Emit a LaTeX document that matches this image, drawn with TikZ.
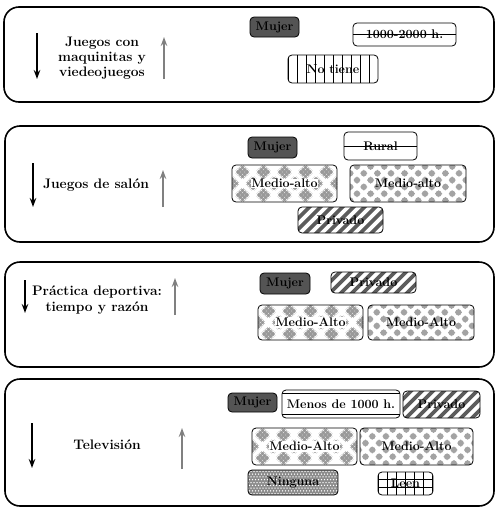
\documentclass[tikz,border=0pt]{standalone}
\usetikzlibrary{arrows.meta,calc}
\definecolor{MujerClr}{rgb}{0.33,0.33,0.33}
\definecolor{StripeClr}{rgb}{0.36,0.36,0.36}
\definecolor{CheckClr}{rgb}{0.64,0.64,0.64}
\definecolor{DiamondClr}{rgb}{0.6,0.6,0.6}
\definecolor{DotClr}{rgb}{0.55,0.55,0.55}
\definecolor{UpClr}{rgb}{0.5,0.5,0.5}
\newcommand{\knock}[1]{{\setlength{\fboxsep}{0.6pt}\colorbox{white}{#1}}}

\tikzset{
  panel/.style={line width=1.6pt,rounded corners=15pt},
  title/.style={align=center,font=\bfseries\fontsize{13.8}{15.3}\selectfont},
  down/.style={line width=1.6pt,-{Stealth[length=9pt,width=6.5pt]}},
  up/.style={UpClr,line width=1.3pt,-{Stealth[length=9pt,width=6.5pt]}},
  tag/.style={draw,line width=0.8pt,rounded corners=4pt,inner sep=0pt,
    font=\bfseries\fontsize{12.5}{14}\selectfont},
  mujer/.style={tag,fill=MujerClr},
  midline/.style={path picture={\draw[line width=0.6pt] (path picture bounding box.west) -- (path picture bounding box.east);}},
  dblline/.style={path picture={
    \draw[line width=0.6pt] ([yshift=-3.5pt]path picture bounding box.north west) -- ([yshift=-3.5pt]path picture bounding box.north east);
    \draw[line width=0.6pt] ([yshift=3.5pt]path picture bounding box.south west) -- ([yshift=3.5pt]path picture bounding box.south east);}},
  vlines/.style={path picture={\foreach \i in {-6,...,6}
    \draw[line width=0.6pt] ([xshift=\i*9pt]path picture bounding box.north) -- ([xshift=\i*9pt]path picture bounding box.south);}},
  grid/.style={path picture={
    \foreach \i in {-4,...,4}
      \draw[line width=0.7pt] ([xshift=\i*9pt]path picture bounding box.north) -- ([xshift=\i*9pt]path picture bounding box.south);
    \foreach \j in {-1,1}
      \draw[line width=0.7pt] ([yshift=\j*3.9pt]path picture bounding box.west) -- ([yshift=\j*3.9pt]path picture bounding box.east);}},
  stripes/.style={path picture={\foreach \i in {-10,...,10}
    \draw[StripeClr,line width=3.6pt] ([xshift=\i*11pt]path picture bounding box.center) ++(-25pt,-25pt) -- ++(50pt,50pt);}},
  checker/.style={path picture={\foreach \i in {-10,...,10}{\foreach \j in {-4,...,3}{
    \pgfmathtruncatemacro\k{mod(\i+\j+20,2)}
    \ifnum\k=0 \fill[CheckClr] ([xshift=\i*6.8pt,yshift=\j*6.8pt]path picture bounding box.center) rectangle ++(6.8pt,6.8pt);\fi}}}},
  dots/.style={path picture={\fill[DotClr] (path picture bounding box.south west) rectangle (path picture bounding box.north east);
    \foreach \i in {-16,...,16}{\foreach \j in {-4,...,4}{
      \pgfmathsetmacro\ox{\i*3+1.5*mod(\j+8,2)}
      \fill[white] ([xshift=\ox pt,yshift=\j*2.8pt]path picture bounding box.center) circle (0.75pt);}}}},
  diamonds/.style={path picture={\foreach \i in {-3,...,3}{\foreach \j in {-1,0,1}{
    \pgfmathsetmacro\dx{\i*21+(\j==0)*10.5}
    \foreach \a in {-1,0,1}{\foreach \b in {-1,0,1}
      \fill[DiamondClr] ([xshift=\dx*1pt+(\a-\b)*2.2pt,yshift=\j*11.5pt+(\a+\b)*2.2pt]path picture bounding box.center)
        ++(0,1.3pt) -- ++(1.3pt,-1.3pt) -- ++(-1.3pt,-1.3pt) -- ++(-1.3pt,1.3pt) -- cycle;}}}}},
}

\begin{document}
\begin{tikzpicture}[x=1pt,y=-1pt]
\useasboundingbox (0,0) rectangle (496,509);

\draw[panel] (4,7) rectangle (494,102);
\draw[panel] (5,126) rectangle (494,242);
\draw[panel] (5,262) rectangle (494,367);
\draw[panel] (5,379) rectangle (494,506);

\coordinate (d1a) at (37,33);  \coordinate (d1b) at (37,79);
\coordinate (u1a) at (164,79); \coordinate (u1b) at (164,37);
\coordinate (d2a) at (33,163); \coordinate (d2b) at (33,207);
\coordinate (u2a) at (163,207);\coordinate (u2b) at (163,170);
\coordinate (d3a) at (25,280); \coordinate (d3b) at (25,313);
\coordinate (u3a) at (175,315);\coordinate (u3b) at (175,278);
\coordinate (d4a) at (32,423); \coordinate (d4b) at (32,468);
\coordinate (u4a) at (182,469);\coordinate (u4b) at (182,428);

\draw[down] (d1a) -- (d1b);
\draw[up] (u1a) -- (u1b);
\draw[down] (d2a) -- (d2b);
\draw[up] (u2a) -- (u2b);
\draw[down] (d3a) -- (d3b);
\draw[up] (u3a) -- (u3b);
\draw[down] (d4a) -- (d4b);
\draw[up] (u4a) -- (u4b);

\node[title] (maquinitas) at (102,58) {Juegos con\\maquinitas y\\viedeojuegos};
\node[title] (salon) at (96,185) {Juegos de salón};
\node[title] (deportiva) at (97,300) {Práctica deportiva:\\tiempo y razón};
\node[title] (television) at (107,445) {Televisión};

\node[mujer,minimum width=49pt,minimum height=20pt] (mujerA) at (274.5,27) {Mujer};
\node[tag,midline,minimum width=103pt,minimum height=23pt] (horasA) at (404.5,34.5) {1000-2000 h.};
\node[tag,vlines,minimum width=90pt,minimum height=28pt] (notiene) at (333,69) {No tiene};

\node[mujer,minimum width=49pt,minimum height=21pt] (mujerB) at (272.5,147.5) {Mujer};
\node[tag,midline,minimum width=73pt,minimum height=28pt] (rural) at (380.5,146) {Rural};
\node[tag,diamonds,minimum width=105pt,minimum height=37pt] (medioBa) at (284.5,183.5) {\knock{Medio-alto}};
\node[tag,checker,minimum width=116pt,minimum height=37pt] (medioBb) at (408,183.5) {Medio-alto};
\node[tag,stripes,minimum width=85pt,minimum height=26pt] (privadoB) at (340.5,220) {Privado};

\node[mujer,minimum width=50pt,minimum height=21pt] (mujerC) at (285,283.5) {Mujer};
\node[tag,stripes,minimum width=85pt,minimum height=21pt] (privadoC) at (373.5,282.5) {Privado};
\node[tag,diamonds,minimum width=105pt,minimum height=35pt] (medioCa) at (310.5,322.5) {\knock{Medio-Alto}};
\node[tag,checker,minimum width=106pt,minimum height=35pt] (medioCb) at (421,322.5) {Medio-Alto};

\node[mujer,minimum width=49pt,minimum height=19pt] (mujerD) at (252.5,402.5) {Mujer};
\node[tag,dblline,minimum width=118pt,minimum height=28pt] (menos) at (341,404) {Menos de 1000 h.};
\node[tag,stripes,minimum width=77pt,minimum height=27pt] (privadoD) at (441.5,404.5) {Privado};
\node[tag,diamonds,minimum width=105pt,minimum height=37pt] (medioDa) at (304.5,446.5) {\knock{Medio-Alto}};
\node[tag,checker,minimum width=113pt,minimum height=37pt] (medioDb) at (416.5,446.5) {Medio-Alto};
\node[tag,dots,minimum width=90pt,minimum height=25pt] (ninguna) at (293,482.5) {Ninguna};
\node[tag,grid,minimum width=55pt,minimum height=23pt] (leen) at (405.5,483.5) {Leen};

\end{tikzpicture}
\end{document}
